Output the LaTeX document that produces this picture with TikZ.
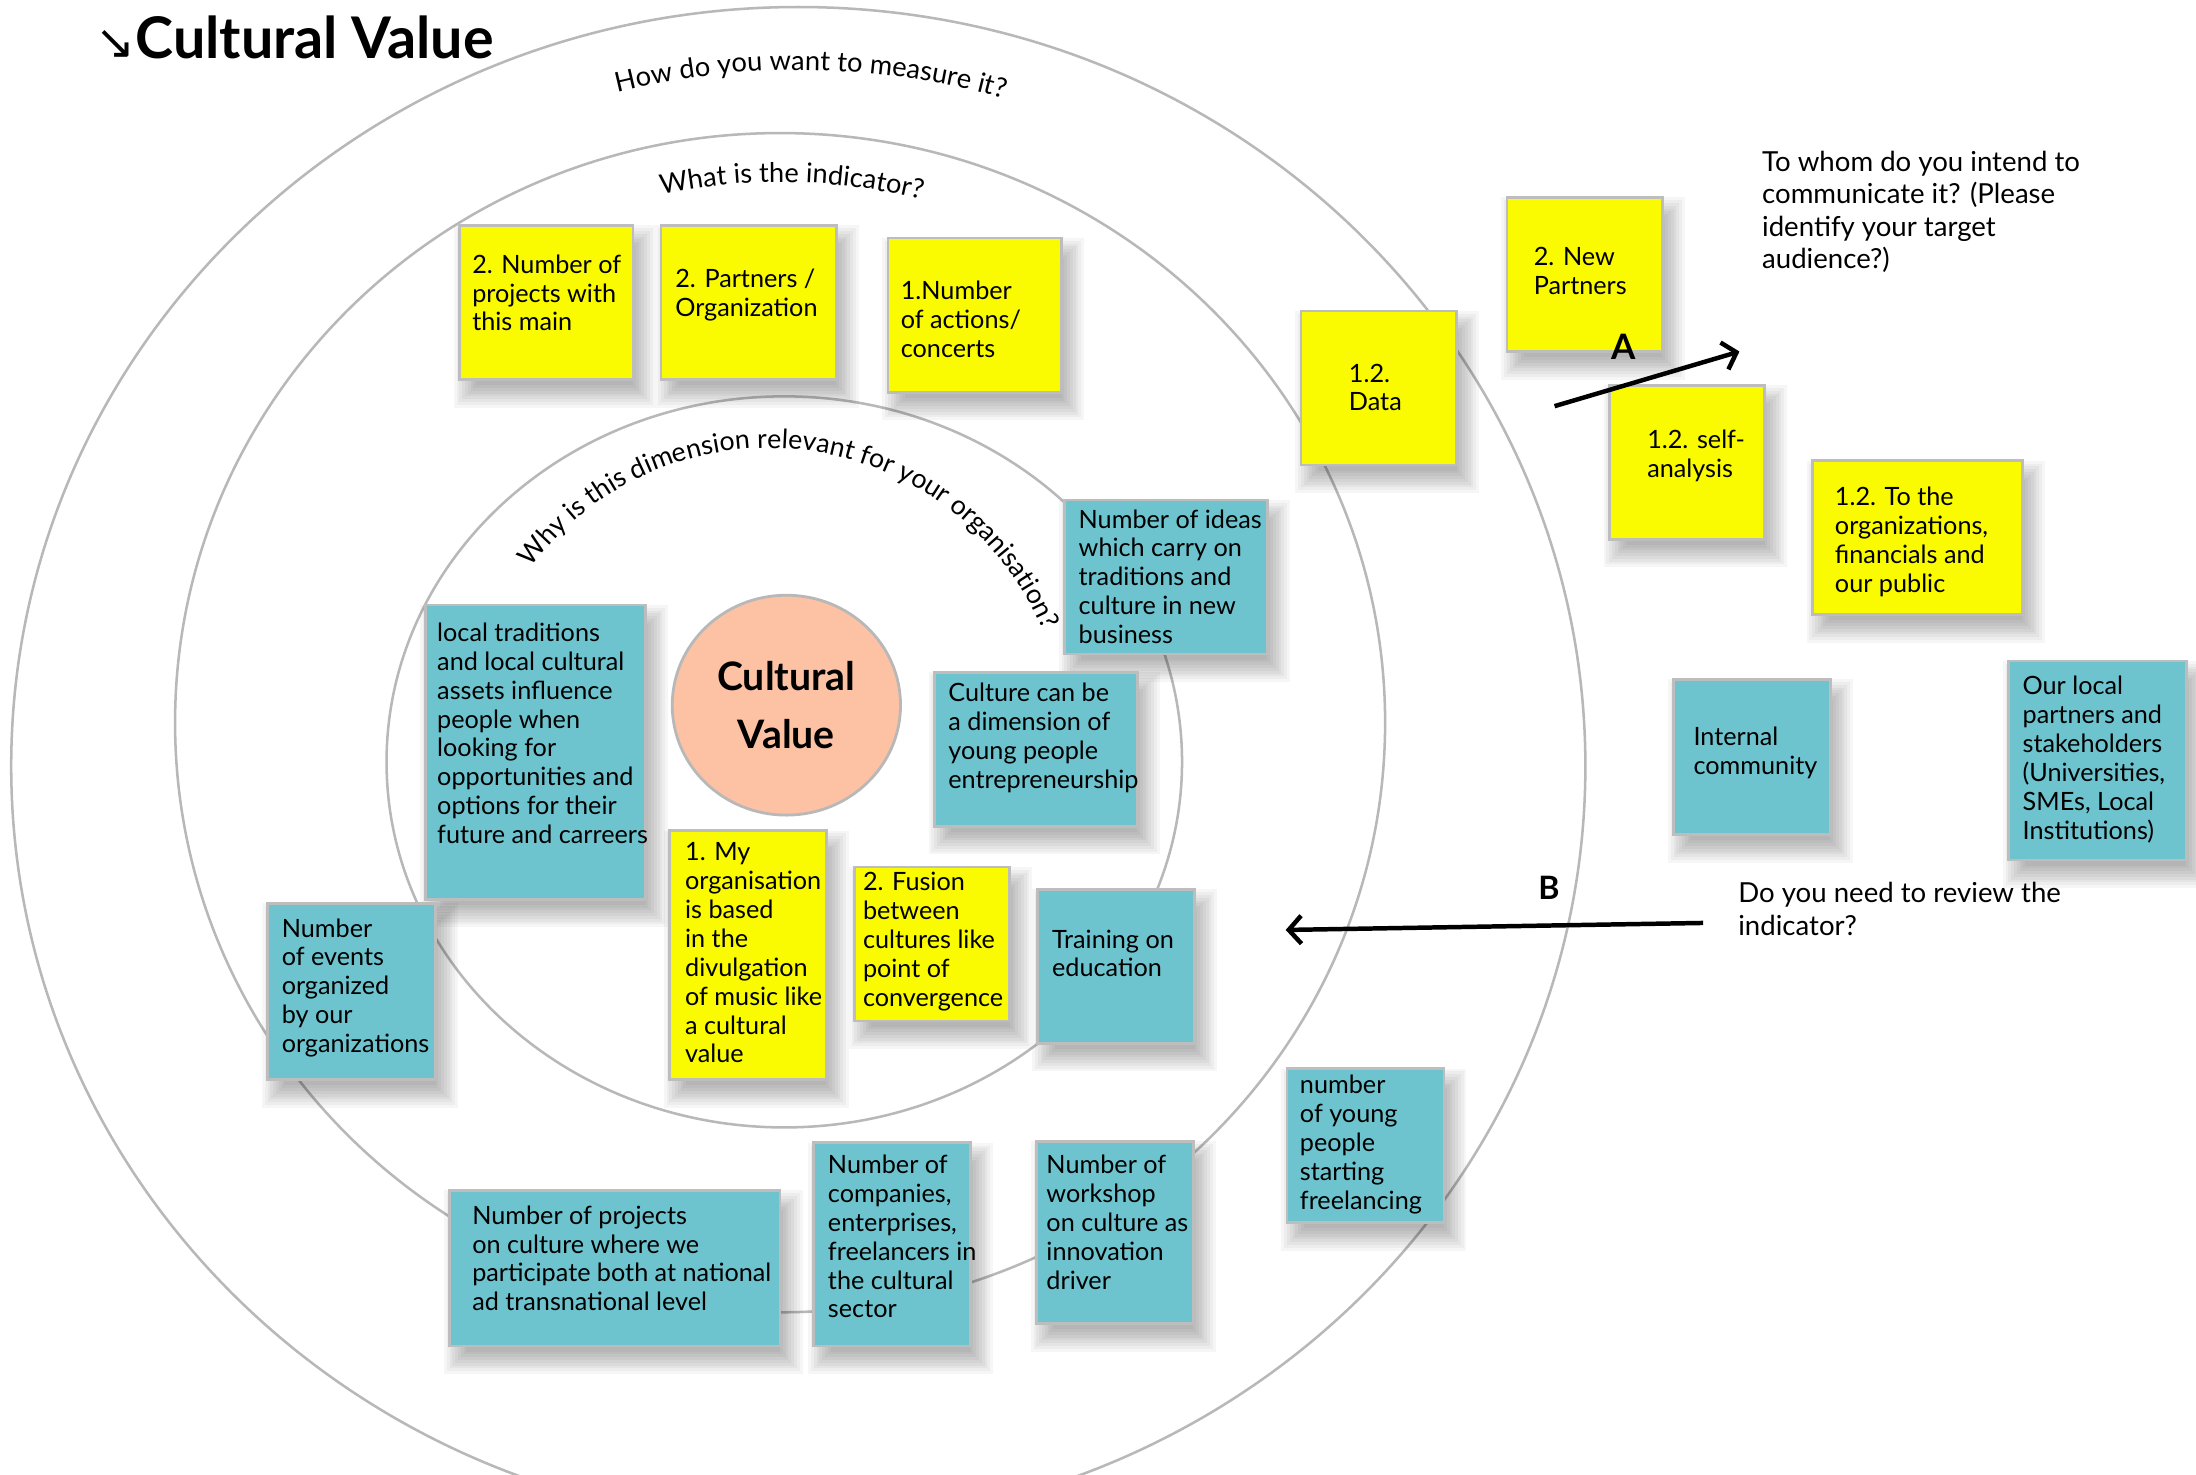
\documentclass[tikz,border=0pt]{standalone}
\usepackage{fontspec}
\setmainfont{Lato}
\newfontfamily\symfont{DejaVu Sans}
\usetikzlibrary{decorations.text,arrows.meta,shapes.geometric}

\definecolor{ringgray}{HTML}{B8B8B8}
\definecolor{boxborder}{HTML}{BDBDBD}
\definecolor{stickyyellow}{HTML}{FAFA00}
\definecolor{stickyteal}{HTML}{6DC4CE}
\definecolor{peach}{HTML}{FCC2A3}

\tikzset{
  ring/.style={draw=ringgray, line width=1.8pt},
  sticky/.style={rectangle, draw=boxborder, line width=2pt, inner sep=0pt, anchor=north west},
  yel/.style={sticky, fill=stickyyellow},
  tealbox/.style={sticky, fill=stickyteal},
  softshadow/.style={fill=black, fill opacity=0.035},
  boxtext/.style={anchor=north west, inner sep=0pt, align=left,
    font=\fontsize{18}{20.6}\selectfont, execute at begin node=\strut},
  question/.style={anchor=north west, inner sep=0pt, align=left,
    font=\fontsize{19.7}{23}\selectfont, execute at begin node=\strut},
  bigarrow/.style={line width=3.2pt, -{Straight Barb[length=9pt,width=20pt]}},
  letter/.style={inner sep=0pt, anchor=base},
}

% #1 name, #2 style, #3 left x, #4 top y (downwards), #5 width, #6 height
\newcommand\notebox[6]{%
  \foreach \e in {-6,-4,...,10}{%
    \fill[softshadow] ({#3+7-\e},{-#4-11+\e}) rectangle ({#3+#5+7+\e},{-#4-#6-11-\e});
  }%
  \node[#2, minimum width=#5, minimum height=#6] (#1) at (#3,-#4) {};%
}

\begin{document}
\begin{tikzpicture}[x=1pt, y=1pt]
\clip (0,0) rectangle (1568,-1053);
\useasboundingbox (0,0) rectangle (1568,-1053);
\fill[white] (0,0) rectangle (1568,-1053);

% rings
\draw[ring] (570,-547) ellipse[x radius=562, y radius=542];
\draw[ring] (557,-516) ellipse[x radius=432, y radius=421];
\draw[ring] (560,-544) ellipse[x radius=284, y radius=261];

% ring questions
\path[decorate, decoration={text along path, text align=center,
  text={|\fontsize{19.5}{20}\selectfont|How do you want to measure it?}}]
  (570,-547) ++(112:517 and 497) arc[start angle=112, end angle=66, x radius=517, y radius=497];
\path[decorate, decoration={text along path, text align=center,
  text={|\fontsize{19.4}{20}\selectfont|What is the indicator?}}]
  (557,-516) ++(111:397 and 386) arc[start angle=111, end angle=66.6, x radius=397, y radius=386];
\path[decorate, decoration={text along path, text align=center,
  text={|\fontsize{19.1}{20}\selectfont|Why is this dimension relevant for your organisation?}}]
  (549,-532) ++(156:212) arc[start angle=156, end angle=10, radius=212];

% title
\node[anchor=base west, inner sep=0pt] (title) at (68,-42)
  {{\symfont\fontsize{34}{34}\selectfont ↘}{\fontsize{41}{42}\selectfont\bfseries Cultural Value}};

% centre
\node[ellipse, draw=ringgray, line width=2pt, fill=peach, minimum width=163, minimum height=157,
  align=center, font=\fontsize{28}{41}\selectfont\bfseries] (core) at (561.5,-503.5) {Cultural\\Value};

% yellow notes
\notebox{y1}{yel}{327}{160}{124}{110}
\notebox{y2}{yel}{471}{160}{125}{110}
\notebox{y3}{yel}{633}{169}{124}{110}
\notebox{y4}{yel}{928}{221}{111}{110}
\notebox{y5}{yel}{1075}{140}{111}{110}
\notebox{y6}{yel}{1148}{274}{111}{110}
\notebox{y7}{yel}{1293}{328}{150}{110}
\notebox{y8}{yel}{477}{592}{112}{178}
\notebox{y9}{yel}{609}{618}{111}{110}

% teal notes
\notebox{t1}{tealbox}{759}{356}{145}{110}
\notebox{t2}{tealbox}{666}{479}{145}{110}
\notebox{t3}{tealbox}{303}{431}{157}{210}
\notebox{t4}{tealbox}{190}{644}{120}{126}
\notebox{t5}{tealbox}{740}{634}{112}{110}
\notebox{t6}{tealbox}{320}{849}{236}{111}
\notebox{t7}{tealbox}{580}{815}{112}{145}
\notebox{t8}{tealbox}{739}{814}{112}{130}
\notebox{t9}{tealbox}{918}{762}{112}{110}
\notebox{t10}{tealbox}{1194}{484}{112}{111}
\notebox{t11}{tealbox}{1433}{471}{127}{142}

% note texts
\node[boxtext] (y1t) at (337,-181.6) {2. Number of\\projects with\\this main};
\node[boxtext] (y2t) at (482,-191.6) {2. Partners /\\Organization};
\node[boxtext] (y3t) at (643,-200.6) {1.Number\\of actions/\\concerts};
\node[boxtext] (y4t) at (963,-259.6) {1.2.\\Data};
\node[boxtext] (y5t) at (1095,-176.6) {2. New\\Partners};
\node[boxtext] (y6t) at (1176,-306.6) {1.2. self-\\analysis};
\node[boxtext] (y7t) at (1310,-347.6) {1.2. To the\\organizations,\\financials and\\our public};
\node[boxtext] (y8t) at (489,-601.6) {1. My\\organisation\\is based\\in the\\divulgation\\of music like\\a cultural\\value};
\node[boxtext] (y9t) at (616,-622.6) {2. Fusion\\between\\cultures like\\point of\\convergence};
\node[boxtext] (t1t) at (770,-363.6) {Number of ideas\\which carry on\\traditions and\\culture in new\\business};
\node[boxtext] (t2t) at (677,-487.6) {Culture can be\\a dimension of\\young people\\entrepreneurship};
\node[boxtext] (t3t) at (312,-444.6) {local traditions\\and local cultural\\assets influence\\people when\\looking for\\opportunities and\\options for their\\future and carreers};
\node[boxtext] (t4t) at (201,-655.6) {Number\\of events\\organized\\by our\\organizations};
\node[boxtext] (t5t) at (751,-663.6) {Training on\\education};
\node[boxtext] (t6t) at (337,-860.6) {Number of projects\\on culture where we\\participate both at national\\ad transnational level};
\node[boxtext] (t7t) at (591,-824.6) {Number of\\companies,\\enterprises,\\freelancers in\\the cultural\\sector};
\node[boxtext] (t8t) at (747,-824.6) {Number of\\workshop\\on culture as\\innovation\\driver};
\node[boxtext] (t9t) at (928,-767.6) {number\\of young\\people\\starting\\freelancing};
\node[boxtext] (t10t) at (1209,-518.6) {Internal\\community};
\node[boxtext] (t11t) at (1444,-482.6) {Our local\\partners and\\stakeholders\\(Universities,\\SMEs, Local\\Institutions)};

% questions
\node[question] (q1) at (1258,-107.9) {To whom do you intend to\\communicate it? (Please\\identify your target\\audience?)};
\node[question] (q2) at (1241,-629.9) {Do you need to review the\\indicator?};

% arrows
\coordinate (aS) at (1110,-290);
\coordinate (aE) at (1242,-251);
\draw[bigarrow] (aS) -- (aE);
\node[letter, font=\fontsize{25}{25}\selectfont\bfseries] (la) at (1159,-257) {A};

\coordinate (bS) at (1216,-659);
\coordinate (bE) at (918,-664);
\draw[bigarrow] (bS) -- (bE);
\node[letter, font=\fontsize{23}{23}\selectfont\bfseries] (lb) at (1106,-642) {B};
\end{tikzpicture}
\end{document}
